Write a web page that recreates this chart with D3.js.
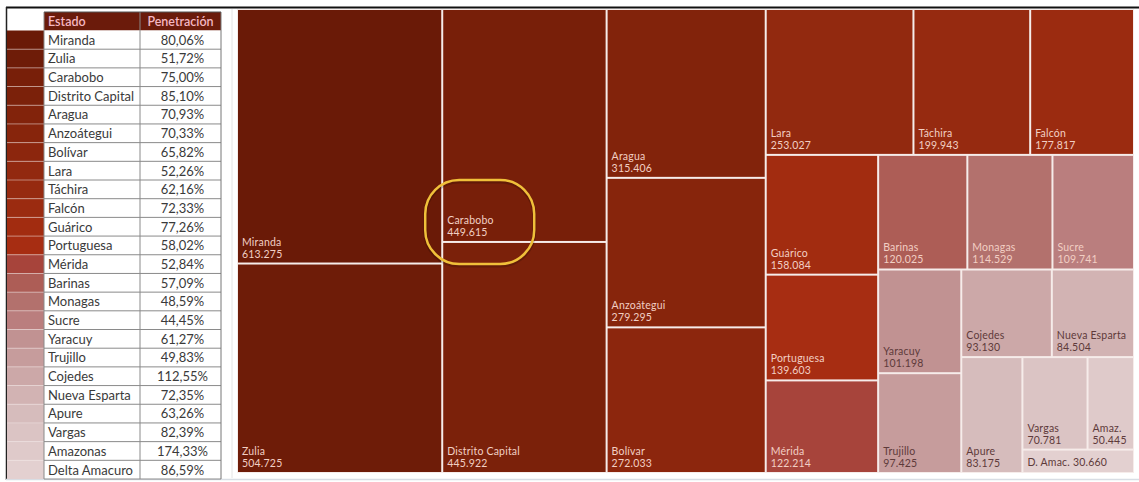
<!DOCTYPE html>
<html><head><meta charset="utf-8">
<script src="https://cdn.jsdelivr.net/npm/d3@7"></script>
<style>
html,body{margin:0;padding:0;background:#fff;}
svg{display:block;font-family:Lato,"Open Sans",sans-serif;}
</style></head>
<body>
<svg id="c" width="1139" height="482"></svg>
<script>
// ---- data ----
const estados = ["Miranda","Zulia","Carabobo","Distrito Capital","Aragua","Anzoátegui","Bolívar","Lara","Táchira","Falcón","Guárico","Portuguesa","Mérida","Barinas","Monagas","Sucre","Yaracuy","Trujillo","Cojedes","Nueva Esparta","Apure","Vargas","Amazonas","Delta Amacuro"];
const penetracion = ["80,06%","51,72%","75,00%","85,10%","70,93%","70,33%","65,82%","52,26%","62,16%","72,33%","77,26%","58,02%","52,84%","57,09%","48,59%","44,45%","61,27%","49,83%","112,55%","72,35%","63,26%","82,39%","174,33%","86,59%"];
const valores = [613275,504725,449615,445922,315406,279295,272033,253027,199943,177817,158084,139603,122214,120025,114529,109741,101198,97425,93130,84504,83175,70781,50445,30660];
const valorLabels = ["613.275","504.725","449.615","445.922","315.406","279.295","272.033","253.027","199.943","177.817","158.084","139.603","122.214","120.025","114.529","109.741","101.198","97.425","93.130","84.504","83.175","70.781","50.445","30.660"];
const nombresCortos = ["Miranda","Zulia","Carabobo","Distrito Capital","Aragua","Anzoátegui","Bolívar","Lara","Táchira","Falcón","Guárico","Portuguesa","Mérida","Barinas","Monagas","Sucre","Yaracuy","Trujillo","Cojedes","Nueva Esparta","Apure","Vargas","Amaz.","D. Amac."];
const encabezados = ["Estado","Penetración"];
const resaltado = "Carabobo";

// ---- styles ----
const palette = ["#6a1a07","#6e1c08","#781f09","#7b210a","#82230b","#87250c","#8c260d","#92290f","#962a10","#9b2b10","#a22c10","#a72d12","#a7443b","#ad5d56","#b3716d","#ba7e7e","#c19292","#c69c9c","#cca8a8","#d2b3b3","#d6bcbc","#dbc4c4","#dfcaca","#e3d0d0"];
const lightText = "#f2cfc4", darkText = "#5e3a3a";

const svg = d3.select("#c");

// frame
svg.append("line").attr("x1",6).attr("x2",1139).attr("y1",7.5).attr("y2",7.5).attr("stroke","#111").attr("stroke-width",2);
svg.append("line").attr("x1",6.5).attr("x2",6.5).attr("y1",7).attr("y2",480).attr("stroke","#222").attr("stroke-width",1.5);
svg.append("line").attr("x1",6).attr("x2",1139).attr("y1",479.5).attr("y2",479.5).attr("stroke","#d8dde4").attr("stroke-width",1.5);
svg.append("line").attr("x1",232).attr("x2",232).attr("y1",9).attr("y2",478).attr("stroke","#e4e4e4").attr("stroke-width",1);

// ---- table ----
const tX = 7, swW = 37, c1 = 44, c2 = 140, c3 = 221, tTop = 12, hH = 18.5;
const y = d3.scaleBand().domain(estados).range([30.5, 479]).paddingInner(0);
const rh = y.bandwidth();
const tbl = svg.append("g");
// header
tbl.append("rect").attr("x",c1).attr("y",tTop).attr("width",c3-c1).attr("height",hH).attr("fill","#6b1b0b");
tbl.selectAll("text.h").data(encabezados).join("text").attr("class","h")
  .attr("x",(d,i)=> i===0 ? c1+4 : (c2+c3)/2)
  .attr("text-anchor",(d,i)=> i===0 ? "start":"middle")
  .attr("y",tTop+hH-4.5).attr("fill","#f4b7c2").attr("font-size",12.5).attr("font-weight","600").text(d=>d);
// swatches
tbl.selectAll("rect.sw").data(estados).join("rect").attr("class","sw")
  .attr("x",tX).attr("y",d=>y(d)).attr("width",swW).attr("height",rh)
  .attr("fill",(d,i)=>palette[i]);
tbl.selectAll("line.swl").data(estados.slice(1)).join("line").attr("class","swl")
  .attr("x1",tX).attr("x2",tX+swW).attr("y1",d=>y(d)).attr("y2",d=>y(d)).attr("stroke","#f3e6e4").attr("stroke-width",0.8).attr("opacity",0.6);
// row rects
tbl.selectAll("rect.row").data(estados).join("rect").attr("class","row")
  .attr("x",c1).attr("y",d=>y(d)).attr("width",c3-c1).attr("height",rh).attr("fill","#fff");
tbl.selectAll("line.rl").data(estados).join("line").attr("class","rl")
  .attr("x1",c1).attr("x2",c3).attr("y1",d=>y(d)+rh).attr("y2",d=>y(d)+rh).attr("stroke","#8a8a8a").attr("stroke-width",1);
tbl.append("line").attr("x1",c2).attr("x2",c2).attr("y1",tTop).attr("y2",479).attr("stroke","#8a8a8a");
tbl.append("line").attr("x1",c1).attr("x2",c1).attr("y1",tTop).attr("y2",479).attr("stroke","#8a8a8a");
tbl.append("line").attr("x1",c3).attr("x2",c3).attr("y1",tTop).attr("y2",479).attr("stroke","#777");
tbl.append("line").attr("x1",c1).attr("x2",c3).attr("y1",tTop).attr("y2",tTop).attr("stroke","#555");
tbl.selectAll("text.n").data(estados).join("text").attr("class","n")
  .attr("x",c1+4).attr("y",d=>y(d)+rh-4.5).attr("fill","#3a3a3a").attr("font-size",13).text(d=>d);
tbl.selectAll("text.v").data(penetracion).join("text").attr("class","v")
  .attr("x",(c2+c3)/2+2).attr("text-anchor","middle").attr("y",(d,i)=>y(estados[i])+rh-4.5).attr("fill","#3a3a3a").attr("font-size",13).text(d=>d);

// ---- treemap ----
const TX = 238, TY = 10, TW = 895, TH = 462;
const data = {name:"root", children: estados.map((e,i)=>({name:e, short:nombresCortos[i], value:valores[i], label:valorLabels[i], idx:i}))};
const root = d3.hierarchy(data).sum(d=>d.value||0).sort((a,b)=>b.value-a.value);
d3.treemap().tile(d3.treemapSquarify.ratio(1)).size([TW,TH]).paddingInner(2).round(false)(root);

const tm = svg.append("g").attr("transform",`translate(${TX},${TY})`);
tm.append("rect").attr("x",-1).attr("y",-1).attr("width",TW+2).attr("height",TH+2).attr("fill","#f6ecea");
const cells = tm.selectAll("g.cell").data(root.leaves()).join("g").attr("class","cell")
  .attr("transform",d=>`translate(${d.x0},${d.y0})`);
cells.append("rect").attr("width",d=>d.x1-d.x0).attr("height",d=>d.y1-d.y0).attr("fill",d=>palette[d.data.idx]);
cells.each(function(d){
  const g = d3.select(this), h = d.y1-d.y0;
  const col = d.data.idx >= 16 ? darkText : lightText;
  const fs = 10.5;
  if (h < 30) {
    g.append("text").attr("x",4).attr("y",h-6).attr("fill",col).attr("font-size",fs).attr("letter-spacing",0.2).text(d.data.short+" "+d.data.label);
  } else {
    g.append("text").attr("x",4).attr("y",h-17).attr("fill",col).attr("font-size",fs).attr("letter-spacing",0.2).text(d.data.short);
    g.append("text").attr("x",4).attr("y",h-5).attr("fill",col).attr("font-size",fs).attr("letter-spacing",0.2).text(d.data.label);
  }
});

// highlight annotation
const hl = root.leaves().find(d=>d.data.name===resaltado);
const hx = TX+hl.x0-18, hy = TY+hl.y1-61;
svg.append("rect").attr("x",hx).attr("y",hy+1.5).attr("width",109).attr("height",84).attr("rx",34).attr("ry",34)
  .attr("fill","none").attr("stroke","#000").attr("stroke-opacity",0.18).attr("stroke-width",4);
svg.append("rect").attr("x",hx).attr("y",hy).attr("width",109).attr("height",84).attr("rx",34).attr("ry",34)
  .attr("fill","none").attr("stroke","#f0c03a").attr("stroke-width",2.5);
</script>
</body></html>
